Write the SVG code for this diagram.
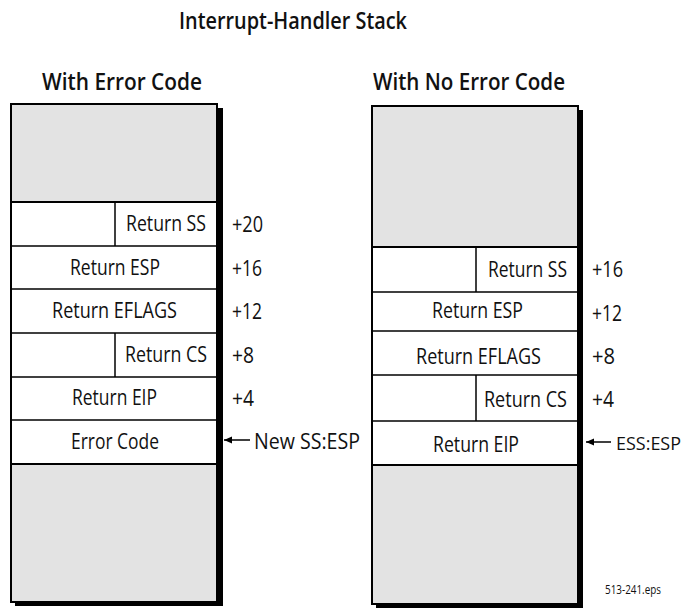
<svg xmlns="http://www.w3.org/2000/svg" width="689" height="609" viewBox="0 0 689 609">
<style>
text{font-family:"Open Sans","Liberation Sans",sans-serif;fill:#111;}
.h{font-size:24px;font-weight:600;}
.t{font-size:21px;text-anchor:middle;}
.o{font-size:21px;}
.f{font-size:13px;}
.box{fill:#fff;stroke:#000;stroke-width:2;}
.sh{fill:#000;}
.g{fill:#e3e3e3;}
.ln{stroke:#000;stroke-width:1.5;fill:none;}
.lnb{stroke:#000;stroke-width:2.2;fill:none;}
.arr{stroke:#000;stroke-width:1.5;fill:none;marker-end:url(#ah);}
</style>
<defs>
<marker id="ah" markerUnits="userSpaceOnUse" markerWidth="9" markerHeight="8" refX="8" refY="4" orient="auto">
<path d="M0,0.5 L8,4 L0,7.5 z" fill="#000"/>
</marker>
</defs>
<rect width="689" height="609" fill="#fff"/>
<text class="h" x="179" y="29" textLength="228" lengthAdjust="spacingAndGlyphs">Interrupt-Handler Stack</text>
<text class="h" x="42" y="90" textLength="160" lengthAdjust="spacingAndGlyphs">With Error Code</text>
<text class="h" x="373" y="90" textLength="192" lengthAdjust="spacingAndGlyphs">With No Error Code</text>

<g id="stack-error">
<rect class="sh" x="15" y="108" width="208" height="498"/>
<rect class="box" x="11" y="104" width="206" height="498"/>
<rect class="g" x="12" y="105" width="204" height="97"/>
<rect class="g" x="12" y="464" width="204" height="137"/>
<g id="l-ss"><line class="lnb" x1="11" y1="202" x2="217" y2="202"/><line class="ln" x1="115" y1="202" x2="115" y2="246"/><text class="t" x="166" y="231" textLength="80" lengthAdjust="spacingAndGlyphs">Return SS</text></g>
<g id="l-esp"><line class="ln" x1="11" y1="246" x2="217" y2="246"/><text class="t" x="115" y="275" textLength="90" lengthAdjust="spacingAndGlyphs">Return ESP</text></g>
<g id="l-eflags"><line class="ln" x1="11" y1="289" x2="217" y2="289"/><text class="t" x="114.5" y="318" textLength="125" lengthAdjust="spacingAndGlyphs">Return EFLAGS</text></g>
<g id="l-cs"><line class="ln" x1="11" y1="333" x2="217" y2="333"/><line class="ln" x1="115" y1="333" x2="115" y2="377"/><text class="t" x="166" y="362" textLength="82" lengthAdjust="spacingAndGlyphs">Return CS</text></g>
<g id="l-eip"><line class="ln" x1="11" y1="377" x2="217" y2="377"/><text class="t" x="114.5" y="405" textLength="85" lengthAdjust="spacingAndGlyphs">Return EIP</text></g>
<g id="l-err"><line class="ln" x1="11" y1="420" x2="217" y2="420"/><line class="lnb" x1="11" y1="464" x2="217" y2="464"/><text class="t" x="115" y="449" textLength="88" lengthAdjust="spacingAndGlyphs">Error Code</text></g>
</g>

<g id="stack-noerror">
<rect class="sh" x="376" y="110" width="207" height="498"/>
<rect class="box" x="372" y="106" width="206" height="498"/>
<rect class="g" x="373" y="107" width="204" height="140"/>
<rect class="g" x="373" y="465" width="204" height="138"/>
<g id="r-ss"><line class="lnb" x1="372" y1="247" x2="578" y2="247"/><line class="ln" x1="476" y1="247" x2="476" y2="292"/><text class="t" x="527.5" y="277" textLength="79" lengthAdjust="spacingAndGlyphs">Return SS</text></g>
<g id="r-esp"><line class="ln" x1="372" y1="292" x2="578" y2="292"/><text class="t" x="477.5" y="318" textLength="91" lengthAdjust="spacingAndGlyphs">Return ESP</text></g>
<g id="r-eflags"><line class="ln" x1="372" y1="331" x2="578" y2="331"/><text class="t" x="478.5" y="364" textLength="125" lengthAdjust="spacingAndGlyphs">Return EFLAGS</text></g>
<g id="r-cs"><line class="ln" x1="372" y1="375" x2="578" y2="375"/><line class="ln" x1="476" y1="375" x2="476" y2="421"/><text class="t" x="525.5" y="407" textLength="83" lengthAdjust="spacingAndGlyphs">Return CS</text></g>
<g id="r-eip"><line class="ln" x1="372" y1="421" x2="578" y2="421"/><line class="lnb" x1="372" y1="465" x2="578" y2="465"/><text class="t" x="476" y="452" textLength="86" lengthAdjust="spacingAndGlyphs">Return EIP</text></g>
</g>

<g id="offsets-left">
<text class="o" x="232" y="232" textLength="31" lengthAdjust="spacingAndGlyphs">+20</text>
<text class="o" x="232" y="276" textLength="30" lengthAdjust="spacingAndGlyphs">+16</text>
<text class="o" x="232" y="319" textLength="30" lengthAdjust="spacingAndGlyphs">+12</text>
<text class="o" x="232" y="363" textLength="22" lengthAdjust="spacingAndGlyphs">+8</text>
<text class="o" x="232" y="406" textLength="22" lengthAdjust="spacingAndGlyphs">+4</text>
<text class="o" x="254" y="449" textLength="106" lengthAdjust="spacingAndGlyphs">New SS:ESP</text>
</g>
<g id="offsets-right">
<text class="o" x="592" y="277" textLength="31" lengthAdjust="spacingAndGlyphs">+16</text>
<text class="o" x="592" y="321" textLength="30" lengthAdjust="spacingAndGlyphs">+12</text>
<text class="o" x="592" y="364" textLength="23" lengthAdjust="spacingAndGlyphs">+8</text>
<text class="o" x="592" y="407" textLength="22" lengthAdjust="spacingAndGlyphs">+4</text>
<text class="o" x="681" y="450" text-anchor="end" style="font-size:19px" textLength="65" lengthAdjust="spacingAndGlyphs">ESS:ESP</text>
</g>

<g id="connectors">
<line class="arr" x1="611" y1="442" x2="586" y2="442"/>
<line class="arr" x1="250" y1="440" x2="224" y2="440"/>
</g>

<text class="f" x="605" y="594" textLength="56" lengthAdjust="spacingAndGlyphs">513-241.eps</text>
</svg>
